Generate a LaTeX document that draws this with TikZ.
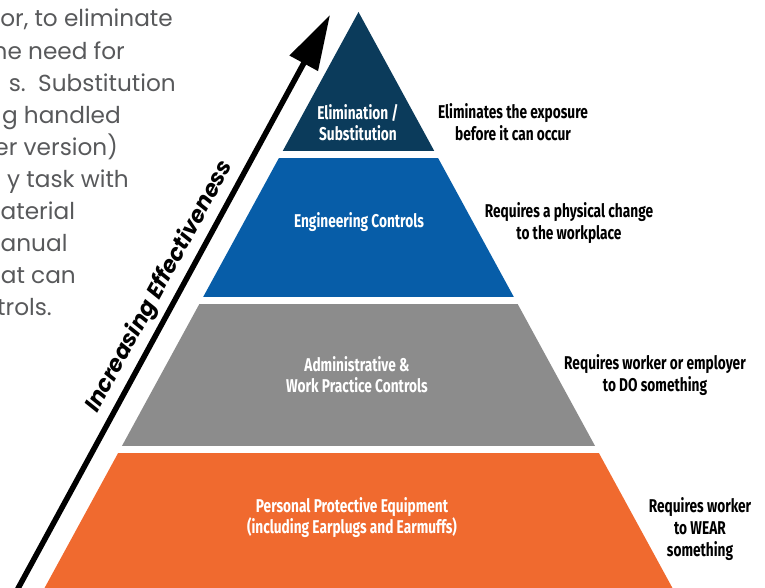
\documentclass[tikz,border=0pt]{standalone}
\usepackage{fontspec}
\usetikzlibrary{arrows.meta}
\setmainfont{Fira Sans}
\newfontfamily\parafont{Poppins}
\newfontfamily\labfont[FakeStretch=0.74]{Fira Sans}
\newfontfamily\arrfont{Poppins}
\definecolor{navy}{HTML}{0B3B5B}
\definecolor{tierblue}{HTML}{075DA8}
\definecolor{tiergray}{HTML}{8C8C8C}
\definecolor{tierorange}{HTML}{F06A2F}
\definecolor{paragray}{HTML}{58595B}
\begin{document}
\begin{tikzpicture}[x=1pt,y=-1pt,
  para/.style={font=\parafont\fontsize{23.2}{24}\selectfont, text=paragray, anchor=base east, inner sep=0pt},
  paraleft/.style={para, anchor=base west},
  inlab/.style={font=\labfont\bfseries\fontsize{18.5}{21}\selectfont, text=white, align=center, inner sep=0pt},
  outlab/.style={font=\labfont\bfseries\fontsize{18.5}{22}\selectfont, text=black, align=center, inner sep=0pt},
  arrtext/.style={font=\arrfont\bfseries\itshape\fontsize{22.5}{23}\selectfont, text=black, inner sep=0pt}
  ]
\useasboundingbox (0,0) rectangle (765,588);
% pyramid tiers
\begin{scope}
  \clip (358.5,12) -- (679,600) -- (38,600) -- cycle;
  \fill[navy] (0,0) rectangle (765,151);
  \fill[tierblue] (0,158) rectangle (765,297);
  \fill[tiergray] (0,304) rectangle (765,446);
  \fill[tierorange] (0,453) rectangle (765,600);
\end{scope}
% paragraph fragment
\node[para] (p1) at (173,27) {or, to eliminate};
\node[para] (p2) at (125,59.1) {he need for};
\node[para] (p3) at (176,91.2) {s.\ \ Substitution};
\node[para] (p4) at (121,123.3) {g handled};
\node[para] (p5) at (118,155.4) {er version)};
\node[para] (p6) at (129,187.5) {y task with};
\node[paraleft] (p7) at (0.5,219.6) {aterial};
\node[paraleft] (p8) at (0.5,251.7) {anual};
\node[para] (p9) at (76,283.8) {hat can};
\node[para] (p10) at (52,315.9) {trols.};
% tier labels
\node[inlab] (t1) at (358,122.5) {Elimination /\\Substitution};
\node[inlab] (t2) at (359,222) {Engineering Controls};
\node[inlab] (t3) at (357,374.5) {Administrative \&\\Work Practice Controls};
\node[inlab] (t4) at (352,518) {Personal Protective Equipment\\(including Earplugs and Earmuffs)};
% side labels
\node[outlab] (d1) at (513,122.5) {Eliminates the exposure\\before it can occur};
\node[outlab] (d2) at (569,223.5) {Requires a physical change\\to the workplace};
\node[outlab] (d3) at (655,375) {Requires worker or employer\\to DO something};
\node[outlab] (d4) at (700,529) {Requires worker\\to WEAR\\something};
% arrow
\coordinate (arrS) at (15,594);
\coordinate (arrE) at (330,15);
\draw[line width=5.5pt, -{Triangle[length=55pt,width=31pt]}] (arrS) -- (arrE);
\node[arrtext, rotate=61.4, anchor=base] (eff) at (165,289.5) {Increasing Effectiveness};
\end{tikzpicture}
\end{document}
